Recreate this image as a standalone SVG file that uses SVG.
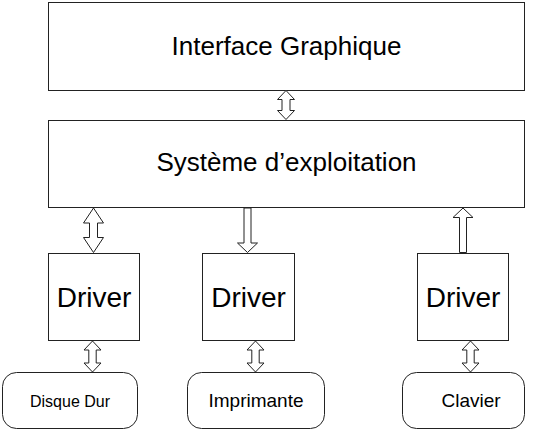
<svg xmlns="http://www.w3.org/2000/svg" width="542" height="432" viewBox="0 0 542 432">
<style>
.box{fill:#fff;stroke:#222;stroke-width:1}
.arr{fill:#fff;stroke:#222;stroke-width:1;stroke-linejoin:miter}
text{font-family:"Liberation Sans",Arial,sans-serif;fill:#000;text-anchor:middle}
.big{font-size:26px}
.drv{font-size:28px}
.sm{font-size:19px}
</style>
<rect width="542" height="432" fill="#fff"/>
<g id="interface"><rect class="box" x="48.5" y="2.5" width="476" height="88"/><text class="big" x="286.5" y="55">Interface Graphique</text></g>
<g id="systeme"><rect class="box" x="48.5" y="120.5" width="476" height="87"/><text class="big" x="286.5" y="171">Système d’exploitation</text></g>
<g id="driver1"><rect class="box" x="48.5" y="253.5" width="91" height="87"/><text class="drv" x="94" y="307">Driver</text></g>
<g id="driver2"><rect class="box" x="202.5" y="253.5" width="92" height="87"/><text class="drv" x="248.5" y="307">Driver</text></g>
<g id="driver3"><rect class="box" x="417.5" y="253.5" width="91" height="87"/><text class="drv" x="463" y="307">Driver</text></g>
<g id="disque"><rect class="box" x="2.5" y="372.5" width="135" height="56" rx="14"/><text x="70" y="407" style="font-size:16px">Disque Dur</text></g>
<g id="imprimante"><rect class="box" x="187.5" y="372.5" width="137" height="56" rx="14"/><text class="sm" x="256" y="407">Imprimante</text></g>
<g id="clavier"><rect class="box" x="402.5" y="372.5" width="122" height="56" rx="14"/><text class="sm" x="471" y="407">Clavier</text></g>
<g id="connectors">
<polygon class="arr" points="286,90.5 294.5,99.5 290,99.5 290,110.5 294.5,110.5 286,119.5 277.5,110.5 282,110.5 282,99.5 277.5,99.5"/>
<polygon class="arr" points="93.5,208 103.5,223 97.5,223 97.5,237.5 103.5,237.5 93.5,252.5 83.5,237.5 89.5,237.5 89.5,223 83.5,223"/>
<polygon class="arr" points="244,208 251,208 251,243 257.5,243 247.5,252.5 237.5,243 244,243"/>
<polygon class="arr" points="463,208 473,217.5 466.5,217.5 466.5,252.5 459.5,252.5 459.5,217.5 453,217.5"/>
<polygon class="arr" points="92.5,341 101,350 96.2,350 96.2,363 101,363 92.5,372 84,363 88.8,363 88.8,350 84,350"/>
<polygon class="arr" points="255.5,341 264,350 259.2,350 259.2,363 264,363 255.5,372 247,363 251.8,363 251.8,350 247,350"/>
<polygon class="arr" points="470.5,341 479,350 474.2,350 474.2,363 479,363 470.5,372 462,363 466.8,363 466.8,350 462,350"/>
</g>
</svg>
